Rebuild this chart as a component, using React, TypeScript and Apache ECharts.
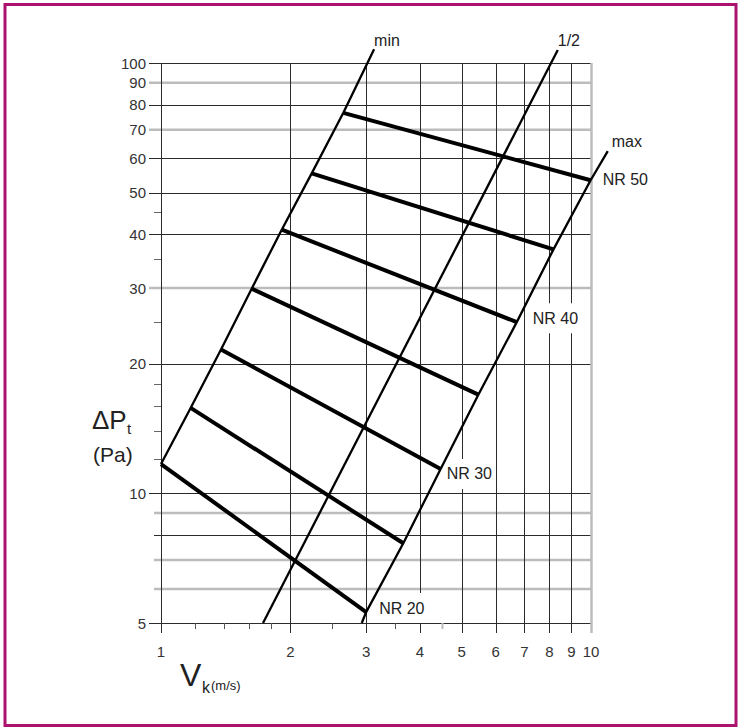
import React, { useEffect, useRef } from "react";
import * as echarts from "echarts";

// ---------------- data ----------------
const xTickValues = [1, 2, 3, 4, 5, 6, 7, 8, 9, 10];
const xMinorTicks = [1.2, 1.4, 1.6, 1.8, 2.5, 3.5, 4.5];
const yTickValues = [5, 10, 20, 30, 40, 50, 60, 70, 80, 90, 100];
const yPlainLines = [6, 7, 8, 9];
const yMinorTicks = [12, 14, 16, 18, 25, 35, 45];

const nrLevels = [20, 25, 30, 35, 40, 45, 50];
// NR line end points: [Vk (m/s), ΔPt (Pa)]
const nrStart = [
  [1.0, 11.7],
  [1.172, 15.8],
  [1.379, 21.6],
  [1.625, 29.9],
  [1.909, 41.0],
  [2.241, 55.4],
  [2.655, 76.6],
];
const nrEnd = [
  [3.0, 5.3],
  [3.66, 7.66],
  [4.47, 11.4],
  [5.47, 16.96],
  [6.72, 25.0],
  [8.18, 36.9],
  [9.98, 53.4],
];
const minTop = [3.13, 107.6];
const halfBottom = [1.727, 5];
const halfTop = [8.37, 107.2];
const maxBottom = [2.93, 5];
const maxTop = [10.94, 62.4];
const boundaryNames = ["min", "1/2", "max"];

// ---------------- styling ----------------
const FONT = "'Liberation Sans', Arial, Helvetica, sans-serif";
const DARK = "#2b2b2b";
const LIGHT = "#bcbcbc";
const X_MIN = 1;
const X_MAX = 10;
const Y_MIN = 5;
const Y_MAX = 100;
const LIGHT_X = [10, 4.5];
const LIGHT_Y = [6, 7, 9, 30, 70, 90];
const nrLabelOffsets: Record<number, number[]> = {
  20: [13, -4],
  30: [6, 5],
  40: [16, -4],
  50: [12, -1],
};
const boundaryLabelOffsets = [
  [0, -9],
  [0, -10],
  [4, -10],
];

function buildOption() {
  const minLine = [...nrStart, minTop];
  const halfLine = [halfBottom, halfTop];
  const maxLine = [maxBottom, ...nrEnd, maxTop];
  const boundaries = [minLine, halfLine, maxLine];

  const txt = (text: string, size: number, color: string, align = "left", vAlign = "middle") => ({
    text,
    fontSize: size,
    fontFamily: FONT,
    fill: color,
    align,
    verticalAlign: vAlign,
    textAlign: align,
    textVerticalAlign: vAlign,
  });

  const labeledNr = nrLevels
    .map((lv, i) => ({ lv, i }))
    .filter((d) => d.lv % 10 === 0);

  const series: any[] = [
    // horizontal labelled grid lines
    {
      type: "custom",
      z: 1,
      silent: true,
      data: yTickValues.map((v) => [X_MIN, v]),
      renderItem: (_p: any, api: any) => {
        const v = api.value(1);
        const a = api.coord([X_MIN, v]);
        const b = api.coord([X_MAX, v]);
        const light = LIGHT_Y.includes(v);
        const y = light ? a[1] : Math.round(a[1]) + 0.5;
        return {
          type: "group",
          children: [
            {
              type: "line",
              shape: { x1: a[0] - 12, y1: y, x2: b[0], y2: y },
              style: { stroke: light ? LIGHT : DARK, lineWidth: light ? 2.5 : 1 },
            },
            { type: "text", x: a[0] - 15, y: a[1], style: txt(String(v), 15, "#333", "right") },
          ],
        };
      },
    },
    // horizontal unlabeled grid lines
    {
      type: "custom",
      z: 1,
      silent: true,
      data: yPlainLines.map((v) => [X_MIN, v]),
      renderItem: (_p: any, api: any) => {
        const v = api.value(1);
        const a = api.coord([X_MIN, v]);
        const b = api.coord([X_MAX, v]);
        const light = LIGHT_Y.includes(v);
        const y = light ? a[1] : Math.round(a[1]) + 0.5;
        return {
          type: "line",
          shape: { x1: a[0] - 7, y1: y, x2: b[0], y2: y },
          style: { stroke: light ? LIGHT : DARK, lineWidth: light ? 2.5 : 1 },
        };
      },
    },
    // y minor ticks
    {
      type: "custom",
      z: 1,
      silent: true,
      data: yMinorTicks.map((v) => [X_MIN, v]),
      renderItem: (_p: any, api: any) => {
        const v = api.value(1);
        const a = api.coord([X_MIN, v]);
        const y = Math.round(a[1]) + 0.5;
        return {
          type: "line",
          shape: { x1: a[0] - 7, y1: y, x2: a[0], y2: y },
          style: { stroke: "#666", lineWidth: 1 },
        };
      },
    },
    // x minor ticks
    {
      type: "custom",
      z: 1,
      silent: true,
      data: xMinorTicks.map((v) => [v, Y_MIN]),
      renderItem: (_p: any, api: any) => {
        const v = api.value(0);
        const a = api.coord([v, Y_MIN]);
        const light = LIGHT_X.includes(v);
        const x = Math.round(a[0]) + 0.5;
        return {
          type: "line",
          shape: { x1: x, y1: a[1], x2: x, y2: a[1] + 6 },
          style: { stroke: light ? LIGHT : "#555", lineWidth: light ? 2 : 1 },
        };
      },
    },
    // vertical grid lines with labels
    {
      type: "custom",
      z: 2,
      silent: true,
      data: xTickValues.map((v) => [v, Y_MIN]),
      renderItem: (_p: any, api: any) => {
        const v = api.value(0);
        const t = api.coord([v, Y_MAX]);
        const b = api.coord([v, Y_MIN]);
        const light = LIGHT_X.includes(v);
        const x = light ? t[0] + 0.5 : Math.round(t[0]) + 0.5;
        return {
          type: "group",
          children: [
            {
              type: "line",
              shape: { x1: x, y1: t[1], x2: x, y2: b[1] + 10 },
              style: { stroke: light ? LIGHT : DARK, lineWidth: light ? 2.5 : 1 },
            },
            { type: "text", x: t[0], y: b[1] + 28, style: txt(String(v), 15, "#333", "center") },
          ],
        };
      },
    },
    // NR labels (white boxes interrupt the grid)
    {
      type: "custom",
      z: 3,
      silent: true,
      data: labeledNr.map((d) => nrEnd[d.i]),
      renderItem: (p: any, api: any) => {
        const lv = labeledNr[p.dataIndex].lv;
        const c = api.coord([api.value(0), api.value(1)]);
        const off = nrLabelOffsets[lv];
        return {
          type: "text",
          x: c[0] + off[0] - 3,
          y: c[1] + off[1],
          style: {
            ...txt("NR " + lv, 16, "#222"),
            backgroundColor: "#fff",
            padding: [7, 3, 7, 3],
          },
        };
      },
    },
    // boundary lines (min, 1/2, max) – polylines through the axes' scales
    {
      type: "custom",
      z: 4,
      silent: true,
      clip: false,
      data: boundaries.map((pts) => pts[0]),
      renderItem: (p: any, api: any) => {
        const pts = boundaries[p.dataIndex].map((pt) => api.coord(pt));
        return {
          type: "polyline",
          shape: { points: pts },
          style: { stroke: "#000", lineWidth: 2.3, fill: "none", lineJoin: "round" },
        };
      },
    },
    // NR lines
    ...nrStart.map((s, i) => ({
      type: "line",
      name: "NR " + nrLevels[i],
      data: [s, nrEnd[i]],
      symbol: "none",
      clip: false,
      z: 4,
      silent: true,
      animation: false,
      lineStyle: { color: "#000", width: 4 },
    })),
    // boundary labels
    {
      type: "custom",
      z: 5,
      silent: true,
      data: boundaries.map((pts) => pts[pts.length - 1]),
      renderItem: (p: any, api: any) => {
        const c = api.coord([api.value(0), api.value(1)]);
        const off = boundaryLabelOffsets[p.dataIndex];
        return {
          type: "text",
          x: c[0] + off[0],
          y: c[1] + off[1],
          style: txt(boundaryNames[p.dataIndex], 16, "#222"),
        };
      },
    },
  ];

  const hiddenAxis = {
    show: false,
    axisLine: { show: false },
    axisTick: { show: false },
    axisLabel: { show: false },
    splitLine: { show: false },
  };

  return {
    animation: false,
    backgroundColor: "#fff",
    grid: { left: 161, top: 63, width: 430, height: 560 },
    xAxis: { type: "log", logBase: 10, min: X_MIN, max: X_MAX, ...hiddenAxis },
    yAxis: { type: "log", logBase: 10, min: Y_MIN, max: Y_MAX, ...hiddenAxis },
    series,
    graphic: {
      elements: [
        {
          type: "rect",
          z: 100,
          silent: true,
          shape: { x: 5, y: 4.5, width: 731, height: 721 },
          style: { fill: "none", stroke: "#AC136E", lineWidth: 3 },
        },
        { type: "text", x: 92, y: 420, silent: true, style: txt("ΔP", 26, "#222") },
        { type: "text", x: 127, y: 428, silent: true, style: txt("t", 15, "#222") },
        { type: "text", x: 93, y: 454, silent: true, style: txt("(Pa)", 21, "#222") },
        { type: "text", x: 180, y: 675, silent: true, style: txt("V", 32, "#222") },
        { type: "text", x: 202, y: 687, silent: true, style: txt("k", 16, "#222") },
        { type: "text", x: 211, y: 685, silent: true, style: txt("(m/s)", 13, "#222") },
      ],
    },
  };
}

export default function App() {
  const ref = useRef<HTMLDivElement>(null);
  useEffect(() => {
    if (!ref.current) return;
    const chart = echarts.init(ref.current, null, { renderer: "svg" });
    chart.setOption(buildOption() as any);
    return () => chart.dispose();
  }, []);
  return (
    <div
      ref={ref}
      style={{ position: "absolute", left: 0, top: 0, width: 739, height: 727, background: "#fff" }}
    />
  );
}
